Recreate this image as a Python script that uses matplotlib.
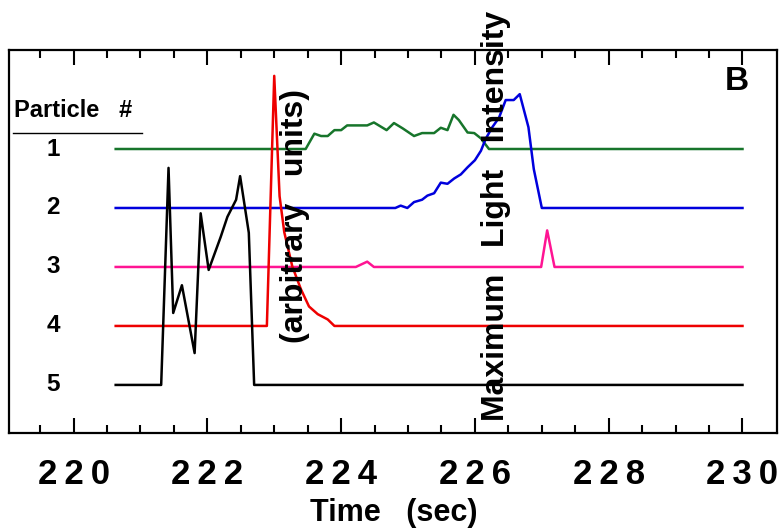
import numpy as np
import matplotlib
matplotlib.use('Agg')
import matplotlib.pyplot as plt
import matplotlib.transforms as mtransforms

plt.rcParams['font.family'] = ['Liberation Sans', 'DejaVu Sans']
plt.rcParams['font.weight'] = 'bold'

# Particle traces: time (sec) and light intensity (arbitrary units) above baseline
t1 = [220.63, 223.47, 223.60, 223.70, 223.80, 223.90, 224.00, 224.09, 224.39, 224.49,
      224.68, 224.79, 224.92, 225.09, 225.21, 225.39, 225.49, 225.59, 225.68, 225.76,
      225.89, 225.99, 226.09, 226.21, 230.0]
v1 = [0, 0, 0.26, 0.22, 0.22, 0.32, 0.32, 0.40, 0.40, 0.45,
      0.32, 0.44, 0.35, 0.22, 0.27, 0.27, 0.36, 0.32, 0.58, 0.49,
      0.28, 0.27, 0.18, 0, 0]

t2 = [220.63, 224.81, 224.89, 224.99, 225.09, 225.21, 225.29, 225.39, 225.49, 225.59,
      225.69, 225.79, 225.89, 226.00, 226.09, 226.16, 226.26, 226.36, 226.46, 226.58,
      226.67, 226.80, 226.88, 227.00, 230.0]
v2 = [0, 0, 0.04, 0, 0.10, 0.14, 0.21, 0.25, 0.43, 0.41,
      0.50, 0.57, 0.69, 0.81, 0.97, 1.17, 1.37, 1.53, 1.83, 1.83,
      1.93, 1.37, 0.66, 0, 0]

t3 = [220.63, 224.22, 224.39, 224.49, 226.99, 227.08, 227.19, 230.0]
v3 = [0, 0, 0.09, 0, 0, 0.62, 0, 0]

t4 = [220.63, 222.89, 223.00, 223.08, 223.15, 223.27, 223.40, 223.52, 223.65, 223.80,
      223.90, 230.0]
v4 = [0, 0, 4.24, 2.20, 1.59, 1.01, 0.62, 0.33, 0.20, 0.11, 0, 0]

t5 = [220.63, 221.31, 221.42, 221.49, 221.62, 221.81, 221.90, 222.02, 222.20, 222.30,
      222.43, 222.49, 222.62, 222.70, 230.0]
v5 = [0, 0, 3.68, 1.22, 1.69, 0.54, 2.91, 1.95, 2.51, 2.85,
      3.14, 3.54, 2.58, 0, 0]

times = [t1, t2, t3, t4, t5]
values = [v1, v2, v3, v4, v5]
particles = ['1', '2', '3', '4', '5']
offsets = [4, 3, 2, 1, 0]
colors = ['#17752B', '#0000DD', '#FF1493', '#EE0000', '#000000']

xticks = [220, 222, 224, 226, 228, 230]

fig = plt.figure(figsize=(7.83, 5.31), dpi=100)
ax = fig.add_axes([0.0119, 0.184, 0.9808, 0.722])

for t, v, off, c in zip(times, values, offsets, colors):
    ax.plot(t, np.array(v) + off, color=c, lw=1.8)

ax.set_xlim(219.04, 230.52)
ax.set_ylim(-0.82, 5.68)
ax.set_yticks([])
ax.set_xticks(xticks)
ax.set_xticklabels(['\u2009'.join(str(x)) for x in xticks])
ax.set_xticks(np.arange(219.5, 230.5, 0.5), minor=True)
ax.tick_params(axis='x', which='both', direction='in', top=True, width=1.5,
               labelsize=25, pad=18)
ax.tick_params(axis='x', which='major', length=11)
ax.tick_params(axis='x', which='minor', length=5.5)
for s in ax.spines.values():
    s.set_linewidth(1.6)

ax.set_xlabel('Time   (sec)', fontsize=22, fontweight='bold', labelpad=5)

# particle labels on the left
trans = mtransforms.blended_transform_factory(ax.transAxes, ax.transData)
for p, off in zip(particles, offsets):
    ax.text(0.0573, off, p, transform=trans, ha='center', va='center',
            fontsize=17.5, fontweight='bold')
ax.text(0.006, 4.66, 'Particle   #', transform=trans, ha='left', va='center',
        fontsize=17, fontweight='bold')
ax.plot([0.005, 0.1725], [4.27, 4.27], transform=trans, color='black', lw=1.0,
        clip_on=False)

ax.text(0.947, 0.9165, 'B', transform=ax.transAxes, ha='center', va='center',
        fontsize=24, fontweight='bold')

# vertical axis title scattered inside the plot
fig.text(0.6335, 0.593, 'Maximum   Light   Intensity', rotation=90,
         ha='center', va='center', fontsize=23, fontweight='bold')
fig.text(0.3768, 0.593, '(arbitrary   units)', rotation=90,
         ha='center', va='center', fontsize=23, fontweight='bold')

fig.savefig('out.png', dpi=100)
